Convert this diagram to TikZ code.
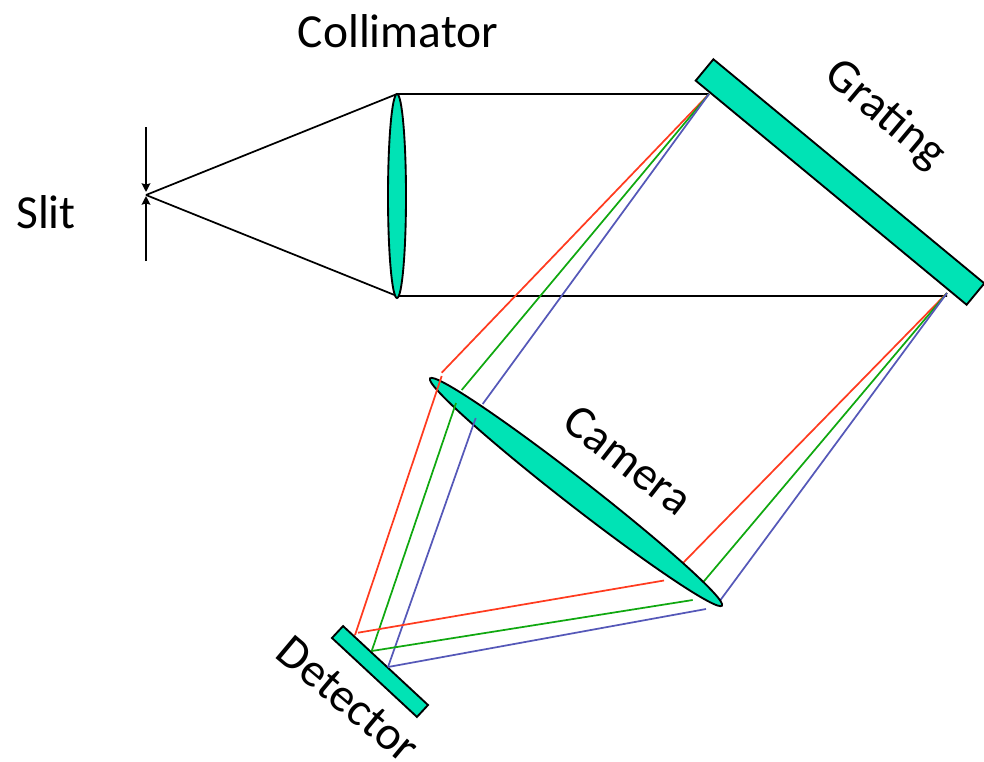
\documentclass[tikz,border=0pt]{standalone}
\usepackage{fontspec}
\setmainfont{Carlito}
\usetikzlibrary{shapes.geometric, arrows.meta}
\definecolor{optic}{HTML}{00E3B5}
\definecolor{rayred}{HTML}{FF3B1F}
\definecolor{raygreen}{HTML}{10A810}
\definecolor{rayblue}{HTML}{5558B8}

\begin{document}
\begin{tikzpicture}[
        x=0.75pt, y=-0.75pt,
        plate/.style={draw, line width=1.4pt, fill=optic, rectangle, inner sep=0pt},
        lens/.style={draw, line width=1.4pt, fill=optic, ellipse, inner sep=0pt},
        label/.style={font=\fontsize{35.6}{40}\selectfont, inner sep=0pt},
        beam/.style={line width=1.3pt},
        arrow/.style={-{Stealth[length=6.5pt, width=6.5pt, inset=1pt]}, line width=1.3pt},
        red ray/.style={line width=1.3pt, rayred},
        green ray/.style={line width=1.3pt, raygreen},
        blue ray/.style={line width=1.3pt, rayblue}
    ]
    \useasboundingbox (0,0) rectangle (984,761);

    \coordinate (SlitTop) at (146,127);
    \coordinate (SlitBot) at (146,261);
    \coordinate (SlitUp) at (146,192);
    \coordinate (SlitLow) at (146,196);
    \coordinate (Slit) at (146,195);
    \coordinate (CollTop) at (397,94);
    \coordinate (CollBot) at (397,296);
    \coordinate (GrTop) at (709,94);
    \coordinate (GrBot) at (947,296);
    \coordinate (GrTopRay) at (709,94);
    \coordinate (GrBotRay) at (947,293);

    % grating to camera
    \coordinate (RedA) at (441.7,372.7);
    \coordinate (GreenA) at (461.7,390);
    \coordinate (BlueA) at (482.7,404);
    \coordinate (RedB) at (683,563);
    \coordinate (GreenB) at (702.7,582.7);
    \coordinate (BlueB) at (719,602);
    % camera to detector
    \coordinate (RedC) at (441.7,376);
    \coordinate (GreenC) at (456,403);
    \coordinate (BlueC) at (475.7,418);
    \coordinate (RedD) at (664,580.5);
    \coordinate (GreenD) at (692.7,600);
    \coordinate (BlueD) at (706,609);
    \coordinate (RedFocA) at (355,635);
    \coordinate (RedFocB) at (358,632.7);
    \coordinate (GreenFoc) at (371.7,651);
    \coordinate (BlueFoc) at (388,667);

    \draw[beam] (Slit) -- (CollTop) -- (GrTop);
    \draw[beam] (Slit) -- (CollBot) -- (GrBot);
    \draw[arrow] (SlitTop) -- (SlitUp);
    \draw[arrow] (SlitBot) -- (SlitLow);

    \draw[red ray] (GrTopRay) -- (RedA);
    \draw[green ray] (GrTopRay) -- (GreenA);
    \draw[blue ray] (GrTopRay) -- (BlueA);
    \draw[red ray] (GrBotRay) -- (RedB);
    \draw[green ray] (GrBotRay) -- (GreenB);
    \draw[blue ray] (GrBotRay) -- (BlueB);

    \node[plate, rotate=-39.6, minimum width=263.7pt, minimum height=20.8pt] (Grating) at (840,182) {};
    \node[plate, rotate=-42.9, minimum width=87pt, minimum height=12.2pt] (Detector) at (380,671.5) {};
    \node[lens, minimum width=13.5pt, minimum height=153pt] (Collimator) at (397,196) {};
    \node[lens, rotate=-37.9, minimum width=277.5pt, minimum height=20pt] (Camera) at (576,492) {};

    \draw[red ray] (RedC) -- (RedFocA);
    \draw[green ray] (GreenC) -- (GreenFoc);
    \draw[blue ray] (BlueC) -- (BlueFoc);
    \draw[red ray] (RedFocB) -- (RedD);
    \draw[green ray] (GreenFoc) -- (GreenD);
    \draw[blue ray] (BlueFoc) -- (BlueD);

    \node[label] (CollimatorText) at (398,31) {Collimator};
    \node[label] (SlitText) at (46,212) {Slit};
    \node[label, rotate=-40] (GratingText) at (885,115) {Grating};
    \node[label, rotate=-38] (CameraText) at (628,460) {Camera};
    \node[label, rotate=-40] (DetectorText) at (348,699) {Detector};
\end{tikzpicture}
\end{document}
